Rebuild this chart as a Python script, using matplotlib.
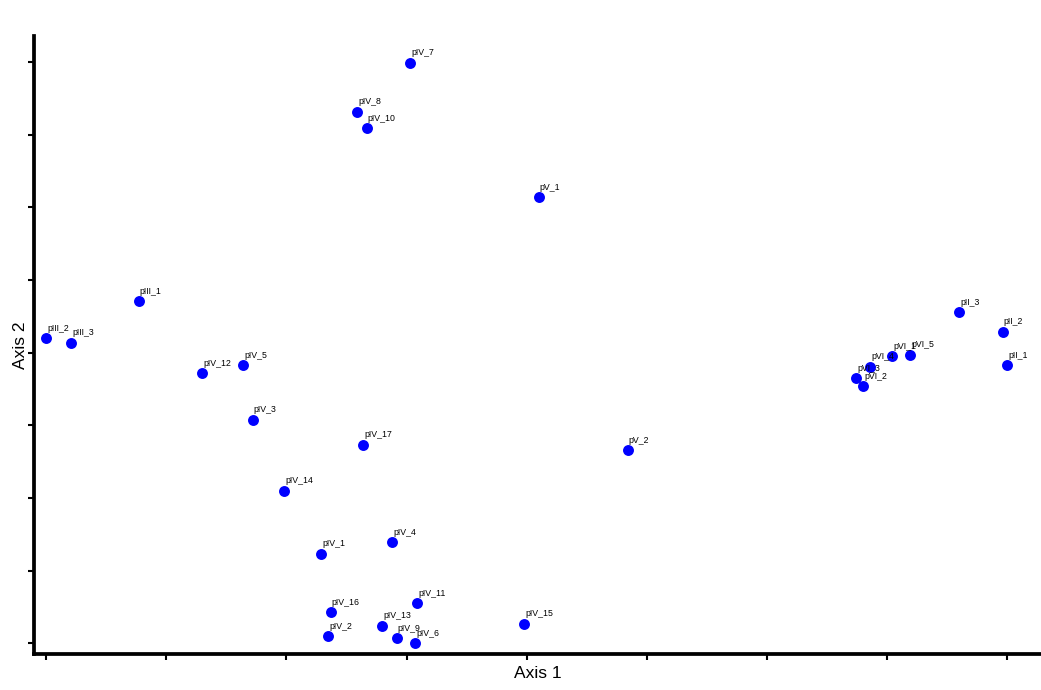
import matplotlib.pyplot as plt

plt.rcParams['font.family'] = ['Liberation Sans', 'DejaVu Sans']

# sample names and their ordination scores (axis 1, axis 2)
names = ['pIV_7', 'pIV_8', 'pIV_10', 'pV_1', 'pIII_1', 'pIII_2', 'pIII_3',
         'pIV_12', 'pIV_5', 'pIV_3', 'pIV_17', 'pV_2', 'pIV_14', 'pIV_1',
         'pIV_4', 'pIV_16', 'pIV_11', 'pIV_15', 'pIV_2', 'pIV_13', 'pIV_9',
         'pIV_6', 'pII_3', 'pII_2', 'pII_1', 'pVI_5', 'pVI_1', 'pVI_4',
         'pVI_3', 'pVI_2']
axis1 = [3.03, 2.59, 2.67, 4.10, 0.77, 0.00, 0.21,
         1.30, 1.64, 1.72, 2.64, 4.84, 1.98, 2.29,
         2.88, 2.37, 3.09, 3.98, 2.35, 2.80, 2.92,
         3.07, 7.60, 7.96, 8.00, 7.19, 7.04, 6.86,
         6.74, 6.80]
axis2 = [7.99, 7.32, 7.09, 6.14, 4.71, 4.20, 4.14,
         3.72, 3.83, 3.08, 2.73, 2.66, 2.10, 1.23,
         1.39, 0.43, 0.55, 0.27, 0.10, 0.24, 0.07,
         0.00, 4.56, 4.29, 3.83, 3.97, 3.95, 3.81,
         3.65, 3.54]

fig = plt.figure(figsize=(10.41, 6.9), dpi=100)
ax = fig.add_axes([34 / 1041, 36 / 690, 1 - 34 / 1041, 618 / 690])

ax.scatter(axis1, axis2, s=62, color='#0000ff', zorder=3, linewidths=0)
for n, x, y in zip(names, axis1, axis2):
    ax.annotate(n, (x, y), xytext=(1, 10), textcoords='offset pixels',
                fontsize=6.3, ha='left', va='center', zorder=4)

ax.set_xlim(-0.1, 8.28)
ax.set_ylim(-0.147, 8.36)
ax.set_xticks(range(9))
ax.set_yticks(range(9))
ax.set_xticklabels([])
ax.set_yticklabels([])
ax.tick_params(length=4, width=1.5, direction='out')

for side in ['top', 'right']:
    ax.spines[side].set_visible(False)
for side in ['left', 'bottom']:
    ax.spines[side].set_linewidth(2.7)

ax.set_xlabel('Axis 1', fontsize=12.5, labelpad=1.5)
ax.set_ylabel('Axis 2', fontsize=12.5, labelpad=-3)

fig.savefig('out.png', dpi=100)
